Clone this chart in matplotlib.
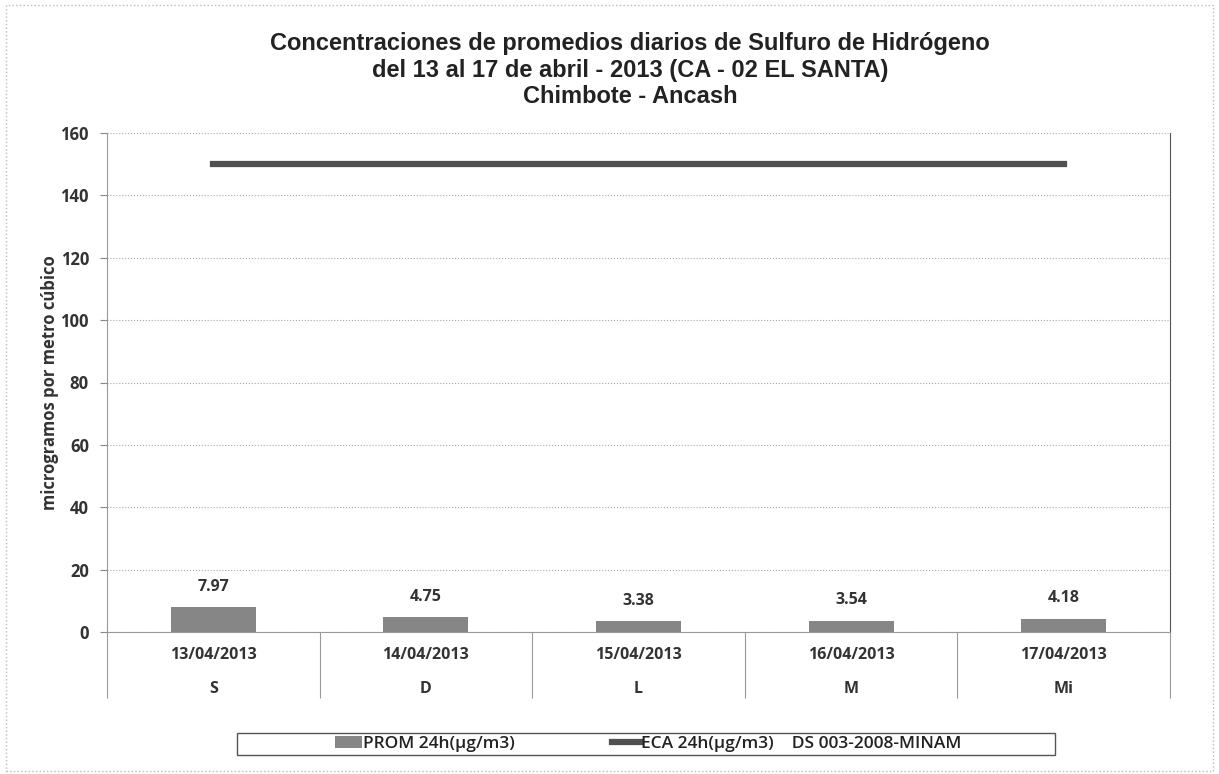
import numpy as np
import matplotlib.pyplot as plt

# data
fechas = ['13/04/2013', '14/04/2013', '15/04/2013', '16/04/2013', '17/04/2013']
dias = ['S', 'D', 'L', 'M', 'Mi']
prom_24h = [7.97, 4.75, 3.38, 3.54, 4.18]
eca_24h = [150, 150, 150, 150, 150]

plt.rcParams['font.family'] = ['Open Sans', 'DejaVu Sans']

fig = plt.figure(figsize=(12.19, 7.74), dpi=100)
ax = fig.add_axes([107/1219, 1 - 632/774, (1170 - 107)/1219, (632 - 133)/774])

x = np.arange(len(fechas))
ax.bar(x, prom_24h, width=0.4, color='#868686', label='PROM 24h(µg/m3)', zorder=3)
ax.plot(x, eca_24h, color='#505050', lw=4.5, label='ECA 24h(µg/m3)    DS 003-2008-MINAM', zorder=4)

for xi, v in zip(x, prom_24h):
    ax.text(xi, v + 4, f'{v:.2f}', ha='center', va='bottom', fontsize=11.5, fontweight='bold', color='#333333')

ax.set_xlim(-0.5, len(fechas) - 0.5)
ax.set_ylim(0, 160)
ax.set_yticks(np.arange(0, 161, 20))
ax.tick_params(axis='y', labelsize=12, length=5, color='#888888', pad=8)
for t in ax.get_yticklabels():
    t.set_fontweight('bold')
    t.set_color('#333333')
ax.set_xticks([])
ax.grid(axis='y', color='#aaaaaa', lw=0.8, ls=':', zorder=0)
ax.set_ylabel('microgramos por metro cúbico', fontsize=12, fontweight='bold', color='#333333', labelpad=1)

ax.spines['top'].set_visible(False)
ax.spines['left'].set_color('#999999')
ax.spines['right'].set_color('#555555')
ax.spines['bottom'].set_color('#999999')

# category table under the axis
ax.vlines(np.arange(-0.5, len(fechas)), -0.132, 0, transform=ax.get_xaxis_transform(),
          color='#999999', lw=0.8, clip_on=False)
for xi, f, d in zip(x, fechas, dias):
    ax.text(xi, -0.046, f, transform=ax.get_xaxis_transform(), ha='center', va='center',
            fontsize=11.5, fontweight='bold', color='#333333')
    ax.text(xi, -0.114, d, transform=ax.get_xaxis_transform(), ha='center', va='center',
            fontsize=11.5, fontweight='bold', color='#333333')

fig.text(0.517, 1 - 70/774, 'Concentraciones de promedios diarios de Sulfuro de Hidrógeno\n'
         'del 13 al 17 de abril - 2013 (CA - 02 EL SANTA)\nChimbote - Ancash',
         ha='center', va='center', fontsize=17, fontweight='bold', family='Liberation Sans',
         color='#222222', linespacing=1.17)

handles, labels = ax.get_legend_handles_labels()
order = [labels.index('PROM 24h(µg/m3)'), labels.index('ECA 24h(µg/m3)    DS 003-2008-MINAM')]
leg = fig.legend([handles[i] for i in order], [labels[i] for i in order], loc='center',
                 bbox_to_anchor=(648/1219, 1 - 744/774), ncol=2, frameon=False,
                 prop={'size': 12.5, 'weight': 'semibold'}, handlelength=1.6,
                 handletextpad=0.05, columnspacing=5.6)
for t in leg.get_texts():
    t.set_color('#222222')
fig.patches.append(plt.Rectangle((237/1219, 1 - 755/774), 818/1219, 22/774, transform=fig.transFigure,
                                 fill=False, edgecolor='#555555', lw=1))

# outer frame of the chart
fig.patches.append(plt.Rectangle((6/1219, 3/774), 1207/1219, 766/774, transform=fig.transFigure,
                                 fill=False, edgecolor='#bbbbbb', lw=1, ls=':'))

plt.savefig('out.png', dpi=100)
